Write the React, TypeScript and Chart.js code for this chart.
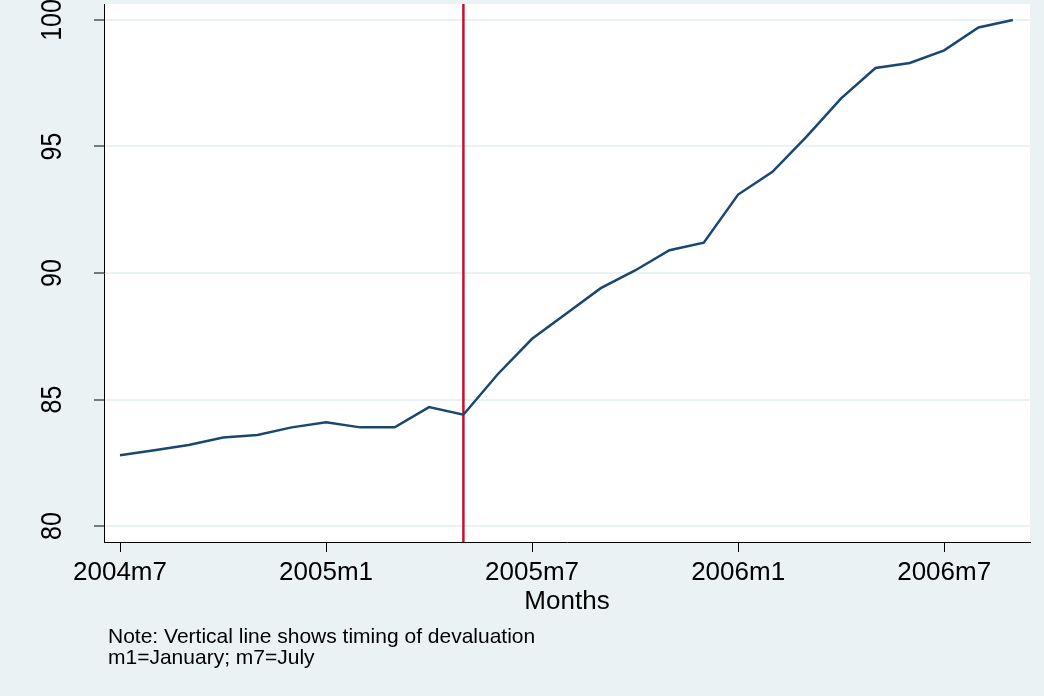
import React, { useEffect, useRef } from "react";
import { Chart, registerables } from "chart.js";

Chart.register(...registerables);

const months: string[] = [
  "2004m7", "2004m8", "2004m9", "2004m10", "2004m11", "2004m12",
  "2005m1", "2005m2", "2005m3", "2005m4", "2005m5", "2005m6",
  "2005m7", "2005m8", "2005m9", "2005m10", "2005m11", "2005m12",
  "2006m1", "2006m2", "2006m3", "2006m4", "2006m5", "2006m6",
  "2006m7", "2006m8", "2006m9",
];

const values: number[] = [
  82.8, 83.0, 83.2, 83.5, 83.6, 83.9,
  84.1, 83.9, 83.9, 84.7, 84.4, 86.0,
  87.4, 88.4, 89.4, 90.1, 90.9, 91.2,
  93.1, 94.0, 95.4, 96.9, 98.1, 98.3,
  98.8, 99.7, 100.0,
];

const xTickLabels: string[] = ["2004m7", "2005m1", "2005m7", "2006m1", "2006m7"];
const yTickValues: number[] = [80, 85, 90, 95, 100];
const devaluationMonth = "2005m5";
const xTitle = "Months";
const noteLines: string[] = [
  "Note: Vertical line shows timing of devaluation",
  "m1=January; m7=July",
];

const BG = "#eaf2f3";
const LINE = "#1a476f";
const RED = "#c8102e";
const FONT = "'Liberation Sans', Arial, Helvetica, sans-serif";

export default function App() {
  const ref = useRef<HTMLCanvasElement>(null);

  useEffect(() => {
    const canvas = ref.current;
    if (!canvas) return;

    const devalX = months.indexOf(devaluationMonth);

    const bgPlugin = {
      id: "bgPlugin",
      beforeDraw(chart: any) {
        const { ctx, chartArea } = chart;
        ctx.save();
        ctx.fillStyle = BG;
        ctx.fillRect(0, 0, chart.width, chart.height);
        ctx.fillStyle = "#ffffff";
        ctx.fillRect(chartArea.left, chartArea.top, chartArea.right - chartArea.left, chartArea.bottom - chartArea.top);
        ctx.restore();
      },
      beforeDatasetsDraw(chart: any) {
        const { ctx, chartArea, scales } = chart;
        const x = scales.x.getPixelForValue(devalX);
        ctx.save();
        ctx.strokeStyle = RED;
        ctx.lineWidth = 2.5;
        ctx.beginPath();
        ctx.moveTo(x, chartArea.top);
        ctx.lineTo(x, chartArea.bottom);
        ctx.stroke();
        ctx.restore();
      },
      afterDraw(chart: any) {
        const { ctx, chartArea, scales } = chart;
        ctx.save();
        ctx.fillStyle = "#000";
        // y tick labels, rotated
        ctx.font = `25px ${FONT}`;
        ctx.textAlign = "center";
        ctx.textBaseline = "alphabetic";
        for (const v of yTickValues) {
          const y = scales.y.getPixelForValue(v);
          ctx.save();
          ctx.translate(61, y);
          ctx.rotate(-Math.PI / 2);
          ctx.scale(1, 1.2);
          ctx.fillText(String(v), 0, 0);
          ctx.restore();
        }
        // x title
        ctx.font = `26px ${FONT}`;
        ctx.textAlign = "center";
        ctx.fillText(xTitle, (chartArea.left + chartArea.right) / 2, 609);
        // notes
        ctx.font = `21px ${FONT}`;
        ctx.textAlign = "left";
        ctx.fillText(noteLines[0], 108, 643);
        ctx.fillText(noteLines[1], 108, 664);
        ctx.restore();
      },
    };

    const chart = new Chart(canvas, {
      type: "line",
      data: {
        datasets: [
          {
            data: values.map((v, i) => ({ x: i, y: v })),
            borderColor: LINE,
            borderWidth: 2.5,
            pointRadius: 0,
            tension: 0,
            fill: false,
          },
        ],
      },
      options: {
        animation: false,
        responsive: false,
        maintainAspectRatio: false,
        layout: { padding: { left: 0, top: 4, right: 14, bottom: 0 } },
        plugins: { legend: { display: false }, tooltip: { enabled: false } },
        scales: {
          x: {
            type: "linear",
            min: -0.466,
            max: 26.5,
            afterBuildTicks: (scale: any) => {
              scale.ticks = xTickLabels.map((l) => ({ value: months.indexOf(l) }));
            },
            afterFit: (scale: any) => {
              scale.height = 154;
            },
            ticks: {
              color: "#000",
              autoSkip: false,
              maxRotation: 0,
              minRotation: 0,
              padding: 5,
              font: { size: 26, family: FONT },
              callback: (v: any) => months[Number(v)] ?? "",
            },
            grid: {
              drawOnChartArea: false,
              drawTicks: true,
              tickLength: 10,
              tickColor: "#000",
              tickWidth: 1,
            },
            border: { color: "#000", width: 1 },
          },
          y: {
            type: "linear",
            min: 79.37,
            max: 100.63,
            afterBuildTicks: (scale: any) => {
              scale.ticks = yTickValues.map((v) => ({ value: v }));
            },
            afterFit: (scale: any) => {
              scale.width = 104;
            },
            ticks: { display: false },
            grid: {
              color: BG,
              lineWidth: 2,
              drawTicks: true,
              tickLength: 10,
              tickColor: "#000",
              tickWidth: 1,
            },
            border: { color: "#000", width: 1 },
          },
        },
      },
      plugins: [bgPlugin],
    });

    return () => chart.destroy();
  }, []);

  return (
    <div style={{ position: "fixed", left: 0, top: 0, width: 1044, height: 696, background: BG }}>
      <canvas ref={ref} width={1044} height={696} style={{ display: "block", width: 1044, height: 696 }} />
    </div>
  );
}
